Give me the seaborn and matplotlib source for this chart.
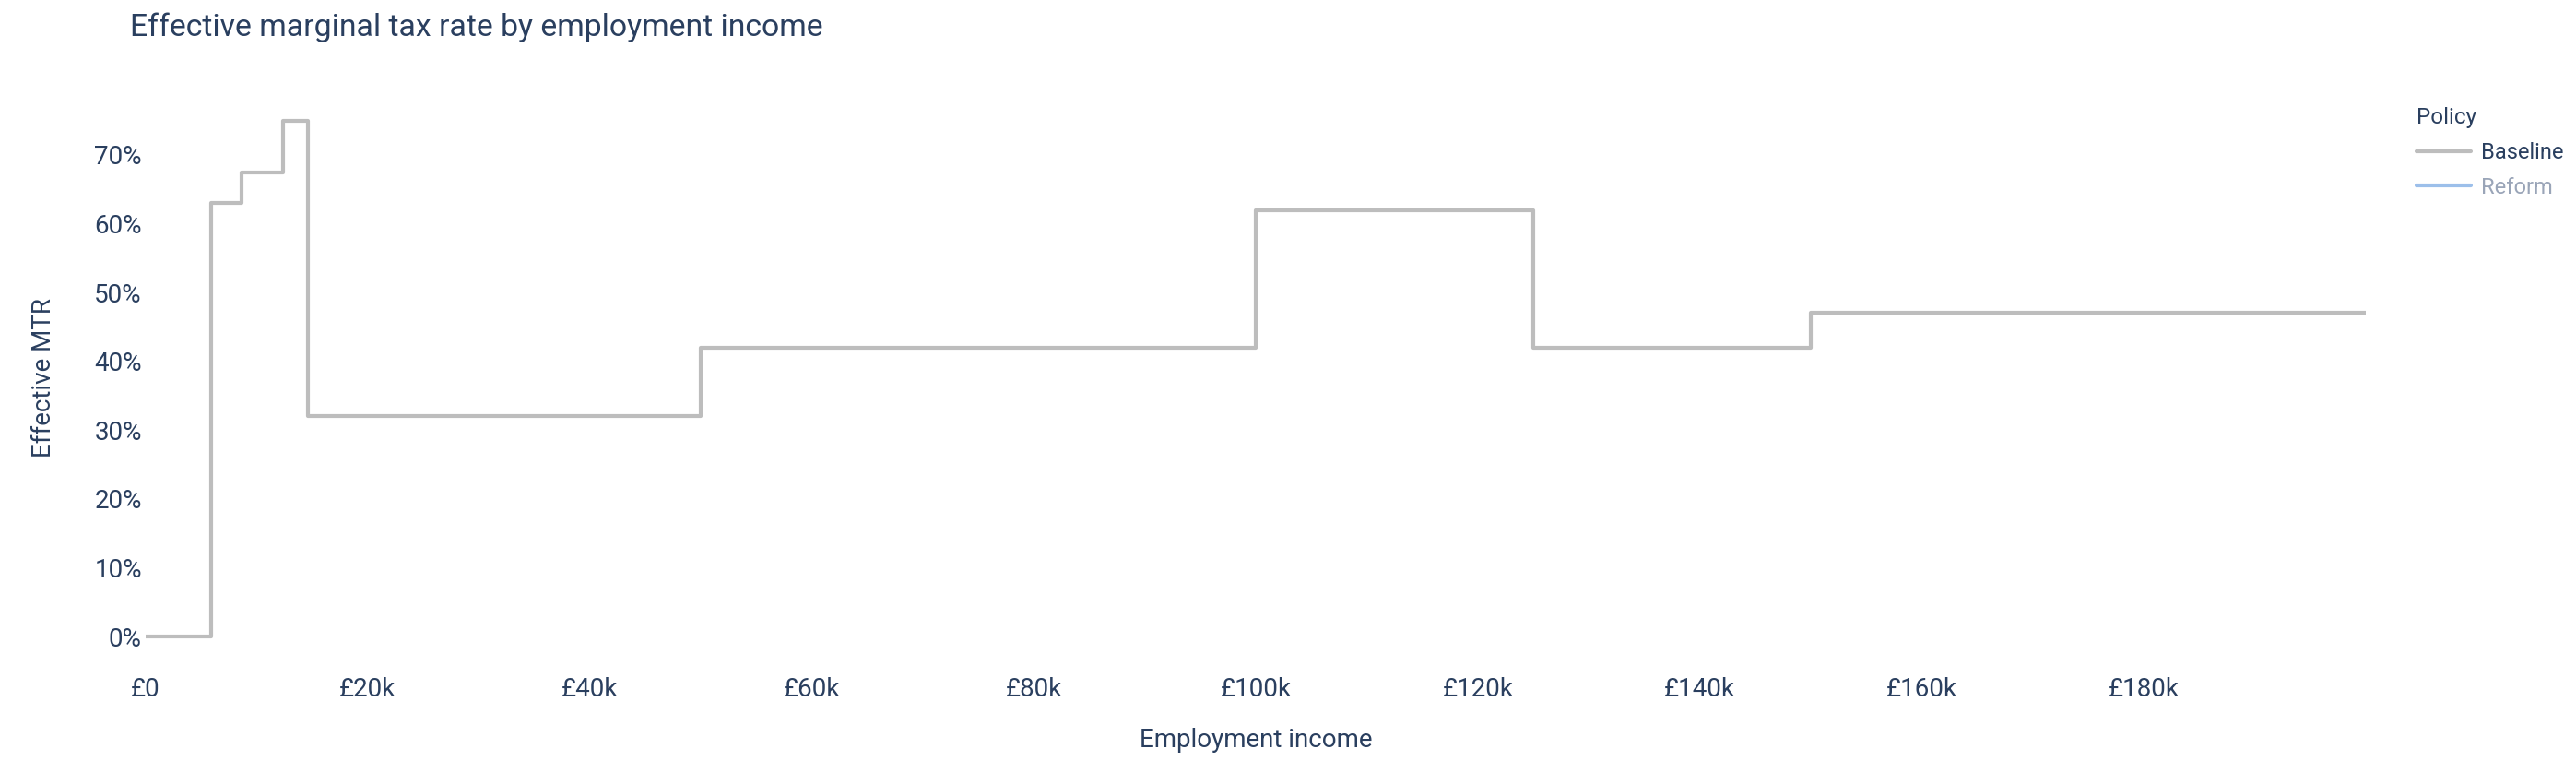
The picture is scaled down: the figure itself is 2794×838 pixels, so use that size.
import seaborn as sns
import matplotlib.pyplot as plt
import pandas as pd
from matplotlib.lines import Line2D
from matplotlib.ticker import FuncFormatter

# Data (step breakpoints)
income = [0, 5900, 8600, 12400, 14600, 50000, 100000, 125000, 150000, 200000]
baseline_mtr = [0.0, 0.63, 0.675, 0.75, 0.32, 0.42, 0.62, 0.42, 0.47, 0.47]
x_ticks = [0, 20000, 40000, 60000, 80000, 100000, 120000, 140000, 160000, 180000]
y_ticks = [0, 0.1, 0.2, 0.3, 0.4, 0.5, 0.6, 0.7]
policies = ["Baseline", "Reform"]
policy_colors = {"Baseline": "#BDBDBD", "Reform": "#9CBFEA"}

TEXT = "#2a3f5f"

if __name__ == "__main__":
    sns.set_style("white")
    plt.rcParams["font.family"] = ["Roboto", "DejaVu Sans"]

    df = pd.DataFrame({"Employment income": income, "Effective MTR": baseline_mtr,
                       "Policy": "Baseline"})

    fig = plt.figure(figsize=(27.94, 8.38), dpi=100)
    ax = fig.add_axes([0.0566, 0.1408, 0.9184 - 0.0566, 0.8807 - 0.1408])

    sns.lineplot(data=df, x="Employment income", y="Effective MTR", hue="Policy",
                 palette=policy_colors, drawstyle="steps-post", linewidth=3,
                 legend=False, ax=ax)

    ax.set_xlim(0, 200000)
    ax.set_ylim(-0.040, 0.791)
    ax.set_xticks(x_ticks)
    ax.set_yticks(y_ticks)
    ax.xaxis.set_major_formatter(FuncFormatter(lambda v, p: "£0" if v == 0 else f"£{int(v/1000)}k"))
    ax.yaxis.set_major_formatter(FuncFormatter(lambda v, p: f"{v*100:.0f}%"))
    ax.tick_params(axis="both", length=0, labelsize=20, colors=TEXT)
    ax.tick_params(axis="x", pad=10)
    ax.tick_params(axis="y", pad=3)
    for s in ax.spines.values():
        s.set_visible(False)
    ax.grid(False)

    ax.set_xlabel("Employment income", fontsize=20, color=TEXT, labelpad=20)
    ax.set_ylabel("Effective MTR", fontsize=20, color=TEXT, labelpad=30)
    fig.text(141 / 2794, 1 - 30 / 838, "Effective marginal tax rate by employment income",
             fontsize=24.3, color=TEXT, ha="left", va="center")

    handles = [Line2D([0], [0], color=policy_colors[p], lw=3) for p in policies]
    leg = fig.legend(handles, policies, title="Policy", loc="upper left",
                     bbox_to_anchor=(2600 / 2794, 1 - 95 / 838), frameon=False,
                     fontsize=17, title_fontsize=17.5, handlelength=2.5,
                     handletextpad=0.47, labelspacing=0.62, alignment="left")
    leg.get_title().set_color(TEXT)
    texts = leg.get_texts()
    texts[0].set_color(TEXT)
    texts[1].set_color("#9aa5b8")

    fig.savefig("out.png", dpi=100)
